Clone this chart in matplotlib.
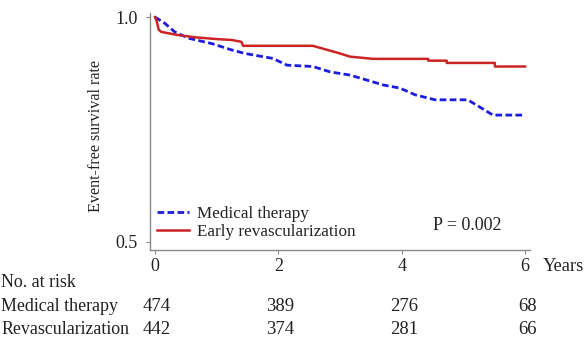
import matplotlib
matplotlib.use("Agg")
import matplotlib.pyplot as plt

plt.rcParams['font.family'] = ['Liberation Serif', 'DejaVu Serif']

# Kaplan-Meier estimates (years, event-free survival)
years_medical = [0, 0.16, 0.32, 0.54, 0.92, 1.24, 1.46, 1.91, 2.14, 2.56, 2.84,
                 3.16, 3.43, 3.70, 3.97, 4.22, 4.54, 5.07, 5.30, 5.48, 6.0]
surv_medical = [1.0, 0.986, 0.967, 0.953, 0.941, 0.927, 0.919, 0.908, 0.893, 0.890,
                0.878, 0.871, 0.860, 0.849, 0.842, 0.827, 0.816, 0.816, 0.797, 0.782, 0.782]

years_revasc = [0, 0.03, 0.06, 0.10, 0.37, 0.65, 1.0, 1.24, 1.40, 1.43, 2.56, 3.0,
                3.16, 3.54, 4.43, 4.43, 4.73, 4.73, 5.51, 5.51, 6.0]
surv_revasc = [1.0, 0.99, 0.972, 0.967, 0.960, 0.955, 0.951, 0.949, 0.945, 0.936, 0.936,
               0.919, 0.912, 0.907, 0.907, 0.903, 0.903, 0.898, 0.898, 0.890, 0.890]

x_ticks = [0, 2, 4, 6]
risk_rows = ["Medical therapy", "Revascularization"]
risk_medical = [474, 389, 276, 68]
risk_revasc = [442, 374, 281, 66]
p_text = "P = 0.002"

txt = '#222222'
axis_col = '#8a8a8a'
W, H = 587, 337

fig = plt.figure(figsize=(W / 100, H / 100), dpi=100)
ax = fig.add_axes([150 / W, 1 - 250 / H, (530 - 150) / W, (250 - 13) / H])

ax.plot(years_medical, surv_medical, color='#1c1ce0', lw=2.0, ls=(0, (2.4, 1.2)),
        label='Medical therapy')
ax.plot(years_revasc, surv_revasc, color='#cc2424', lw=1.8,
        label='Early revascularization')

ax.set_xlim(-0.081, 6.08)
ax.set_ylim(0.482, 1.009)
ax.set_yticks([0.5, 1.0])
ax.set_yticklabels(['0.5', '1.0'])
ax.set_xticks(x_ticks)
ax.set_xticklabels([str(t) for t in x_ticks])

for s in ['top', 'right']:
    ax.spines[s].set_visible(False)
for s in ['left', 'bottom']:
    ax.spines[s].set_color(axis_col)
    ax.spines[s].set_linewidth(1.0)
ax.tick_params(colors=axis_col, labelcolor=txt, labelsize=13, length=3, width=0.8)
ax.tick_params(axis='x', pad=3)
ax.tick_params(axis='y', pad=6)

ax.set_ylabel('Event-free survival rate', fontsize=11.6, color=txt)
ax.yaxis.set_label_coords((104 - 150) / (530 - 150), (250 - 136) / (250 - 13))

leg = ax.legend(loc='upper left', bbox_to_anchor=(7 / 380, (250 - 206) / 237),
                frameon=False, fontsize=12.3, handlelength=1.9, handletextpad=0.45,
                labelspacing=0.13, borderaxespad=0.0, borderpad=0.0)
for t in leg.get_texts():
    t.set_color(txt)

fig.text(433 / W, 1 - 230 / H, p_text, fontsize=13, color=txt,
         va='baseline', ha='left')

# "Years" label to the right of the axis
fig.text(543 / W, 1 - 271 / H, 'Years', fontsize=13.3, color=txt,
         va='baseline', ha='left')

# number at risk table
fig.text(1 / W, 1 - 287 / H, 'No. at risk', fontsize=12.9, color=txt,
         va='baseline', ha='left')
row_base = [311, 333.5]
for name, vals, yy in zip(risk_rows, [risk_medical, risk_revasc], row_base):
    fig.text(1 / W, 1 - yy / H, name, fontsize=12.9, color=txt,
             va='baseline', ha='left')
    for t, v in zip(x_ticks, vals):
        xd, _ = ax.transData.transform((t, 0))
        fig.text((xd + 2) / W, 1 - yy / H, str(v), fontsize=13.5,
                 color=txt, va='baseline', ha='center')

fig.savefig('out.png', dpi=100)
